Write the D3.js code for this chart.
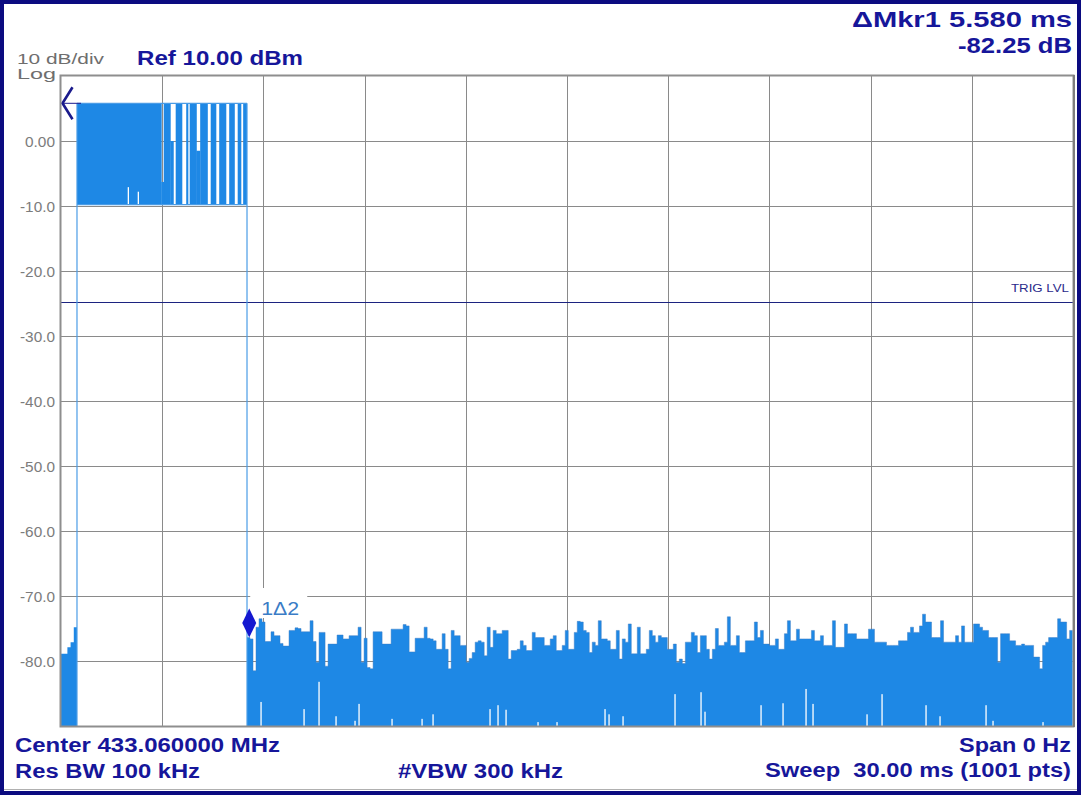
<!DOCTYPE html>
<html>
<head>
<meta charset="utf-8">
<script src="https://cdn.jsdelivr.net/npm/d3@7"></script>
<style>
  html, body { margin: 0; padding: 0; background: #fff; }
  svg { display: block; }
  text { white-space: pre; }
</style>
</head>
<body>
<svg id="chart" width="1081" height="795"></svg>
<script>
// ---------------- data ----------------
const sweepMs = 30;            // Sweep 30.00 ms
const refLevelDb = 10;         // Ref 10.00 dBm
const dbPerDiv = 10;
const divisions = 10;

const xGridMs = [3, 6, 9, 12, 15, 18, 21, 24, 27];
const yTickDb = [0, -10, -20, -30, -40, -50, -60, -70, -80];
const yTickLabels = ["0.00", "-10.0", "-20.0", "-30.0", "-40.0", "-50.0", "-60.0", "-70.0", "-80.0"];

const trigLevelDb = -24.8;

// noise before the burst (column peaks, dBm)
const preNoisePeaks = [-78.9, -78.9, -77.9, -77.1, -74.8];

// burst (OOK) : blocks of trace activity between high and low level
const burstHighDb = 5.8;
const burstLowDb = -9.8;
const burstStartMs = [0.474, 3.045, 3.240, 3.400, 3.712, 3.815, 4.010, 4.126, 4.438, 4.690, 4.986, 5.238, 5.400, 2.975];
const burstEndMs   = [2.985, 3.252, 3.342, 3.596, 3.775, 4.025, 4.130, 4.352, 4.604, 4.900, 5.152, 5.345, 5.514, 3.055];
const burstTopDb   = [5.8, 5.8, 0.0, 5.8, 5.8, 5.8, -1.5, 5.8, 5.8, 5.8, 5.8, 5.8, 5.8, -6.3];
const burstDipMs = [1.995, 2.291];
const burstDipDb = [-7.1, -7.8];

// noise after the burst: peak of each 0.089 ms column, dBm
const noiseStartMs = 5.514;
const noiseStepMs = 0.089;
const noisePeaks = [
  -76.4,-76.6,-81.5,-74.8,-73.5,-74.0,-77.0,-77.0,-75.5,-76.1,
  -76.1,-77.3,-77.7,-77.7,-75.3,-75.3,-74.9,-75.0,-75.5,-75.5,
  -75.5,-73.8,-77.0,-80.2,-75.6,-75.6,-80.8,-77.4,-77.4,-77.4,
  -76.0,-76.0,-76.6,-76.6,-76.1,-76.1,-76.1,-74.8,-80.2,-76.5,
  -81.0,-81.2,-75.5,-75.5,-75.5,-77.4,-77.4,-77.4,-75.1,-75.1,
  -75.1,-75.1,-74.4,-74.6,-78.6,-78.6,-76.5,-76.5,-76.5,-74.8,
  -76.5,
  -76.6,-76.9,-78.2,-78.2,-75.8,-78.2,-81.2,-75.3,-76.1,-76.1,
  -77.6,-77.6,-80.2,-79.6,-78.7,-77.1,-76.9,-77.1,-79.2,-74.8,
  -77.9,-75.3,-75.8,-75.8,-75.3,-75.3,-79.7,-78.4,-78.4,-78.2,
  -76.9,-77.6,-78.4,-78.4,-75.6,-76.4,-76.4,-76.4,-77.6,-77.6,
  -76.6,-76.1,-78.4,-78.4,-77.6,-75.3,-78.2,-78.2,-75.6,-73.9,
  -74.0,-75.3,-75.6,-78.7,-77.1,-77.6,-73.8,-76.6,-76.6,-76.9,
  -78.2,-78.2,-75.3,-79.7,-76.6,-77.1,-74.3,-78.9,-78.9,-74.8,
  -78.9,-78.9,-78.2,-75.3,-76.1,-77.1,-76.1,-76.4,-76.4,-78.2,
  -78.2,-77.4,-80.2,-79.7,-80.4,-77.1,-77.1,-75.6,-76.1,-78.7,
  -76.1,-76.1,-78.2,-79.7,-78.2,-75.0,
  -77.6,-77.6,-77.1,-73.2,-77.6,-77.6,-76.1,-78.7,-78.7,-76.9,
  -76.9,-76.9,-74.0,-76.4,-75.3,-77.4,-77.4,-77.6,-77.6,-76.6,
  -78.2,-78.2,-75.8,-73.8,-76.9,-76.9,-75.1,-76.6,-76.6,-76.6,
  -76.6,-75.3,-76.9,-76.9,-76.1,-77.6,-77.6,-77.6,-73.8,-77.9,
  -77.9,-77.9,-74.3,-75.8,-75.8,-75.8,-76.6,-76.6,-76.6,-76.6,
  -75.1,-75.1,-77.1,-77.1,-77.1,-77.1,-77.6,-77.6,-77.6,-77.6,
  -76.9,-76.9,-76.9,-75.6,-74.8,-75.6,-75.6,-74.6,-72.8,-74.0,
  -74.0,-76.4,-76.4,-76.4,-73.8,-77.1,-77.1,-77.1,-77.1,-76.1,
  -77.1,-74.6,-77.1,-77.1,-77.1,-74.3,-74.3,-74.8,-75.3,-75.3,
  -76.4,-76.4,-76.4,-80.2,-75.8,-75.8,-75.8,-76.9,-76.9,-77.6,
  -77.6,-77.4,-77.6,-77.6,-77.6,-79.4,-79.4,-81.2,-77.6,-77.1,
  -76.4,-76.4,-76.4,-73.5,-74.0,-74.0,-76.6,-75.3
];

// trace points whose minimum stays above the screen bottom (white slivers)
const gapMs = [5.929, 7.204, 7.648, 8.152, 8.715, 8.834, 9.812, 10.702, 11.028, 12.717,
               12.954, 13.192, 14.140, 14.703, 16.126, 16.245, 16.660, 18.201, 18.972, 19.090,
               20.751, 21.403, 22.085, 22.292, 23.893, 24.338, 25.642, 26.057, 27.421, 27.628, 29.110];
const gapDb = [-86.3, -87.4, -83.2, -88.5, -89.2, -86.6, -88.9, -88.9, -88.2, -87.4,
               -86.8, -87.5, -89.4, -89.4, -87.4, -88.2, -88.5, -85.1, -84.8, -87.8,
               -86.8, -86.5, -84.3, -86.6, -88.2, -85.1, -86.8, -88.5, -86.8, -89.2, -89.4];

// delta marker
const markerMs = 5.580;
const markerDb = -76.4;
const markerLabel = "1\u03942";

// annotation texts
const headerLeft1 = "10 dB/div";
const headerLeft2 = "Log";
const refText = "Ref 10.00 dBm";
const mkrLine1 = "\u0394Mkr1 5.580 ms";
const mkrLine2 = "-82.25 dB";
const footCenter = "Center 433.060000 MHz";
const footRbw = "Res BW 100 kHz";
const footVbw = "#VBW 300 kHz";
const footSpan = "Span 0 Hz";
const footSweep = "Sweep\u00a0 30.00 ms (1001 pts)";
const trigText = "TRIG LVL";

// ---------------- drawing ----------------
const NAVY = "#16169a";
const TRACE = "#1e88e5";
const TRACE_LINE = "#4a9ce6";
const GRID = "#8a8a8a";
const FONT = "'Liberation Sans', Arial, Helvetica, sans-serif";

const svg = d3.select("#chart");
const X0 = 61, X1 = 1073, Y0 = 76, Y1 = 726;
const x = d3.scaleLinear().domain([0, sweepMs]).range([X0, X1]);
const y = d3.scaleLinear().domain([refLevelDb, refLevelDb - dbPerDiv * divisions]).range([Y0, Y1]);
const bottomDb = refLevelDb - dbPerDiv * divisions;

svg.append("rect").attr("x", 0).attr("y", 0).attr("width", 1081).attr("height", 795).attr("fill", "#fff");

// grid via axes
const gY = svg.append("g").attr("transform", `translate(${X0},0)`)
  .call(d3.axisLeft(y).tickValues(yTickDb)
    .tickFormat((d, i) => yTickLabels[i])
    .tickSize(-(X1 - X0)).tickPadding(6));
gY.select(".domain").remove();
gY.selectAll("line").attr("stroke", GRID).attr("stroke-width", 1).attr("shape-rendering", "crispEdges");
gY.selectAll("text").attr("fill", "#7c7c7c").attr("font-family", FONT).attr("font-size", 14)
  .attr("dy", "0.36em")
  .attr("textLength", (d, i) => yTickLabels[i].length === 4 ? 30 : 35)
  .attr("lengthAdjust", "spacingAndGlyphs");

const gX = svg.append("g").attr("transform", `translate(0,${Y1})`)
  .call(d3.axisBottom(x).tickValues(xGridMs).tickFormat("").tickSize(-(Y1 - Y0)));
gX.select(".domain").remove();
gX.selectAll("line").attr("stroke", GRID).attr("stroke-width", 1).attr("shape-rendering", "crispEdges");

// trigger level line
const ty = Math.round(y(trigLevelDb)) + 0.5;
svg.append("line").attr("x1", X0).attr("x2", X1).attr("y1", ty).attr("y2", ty)
  .attr("stroke", "#1c2380").attr("stroke-width", 1);
svg.append("text").text(trigText).attr("x", 1069).attr("y", ty - 11)
  .attr("text-anchor", "end").attr("font-family", FONT).attr("font-size", 11)
  .attr("fill", "#2a2a8a").attr("textLength", 58).attr("lengthAdjust", "spacingAndGlyphs");

// white box behind marker label
const mx = x(markerMs), my = y(markerDb);
svg.append("rect").attr("x", mx + 1).attr("y", y(-70) - 8).attr("width", 57).attr("height", 30).attr("fill", "#fff");

// ---- trace ----
const gT = svg.append("g");
const burstStart = d3.min(burstStartMs), burstEnd = d3.max(burstEndMs);

const stepArea = d3.area().curve(d3.curveStepAfter)
  .x(d => x(d[0])).y0(y(bottomDb)).y1(d => y(d[1]));
const stepLine = d3.line().curve(d3.curveStepAfter).x(d => x(d[0])).y(d => y(d[1]));

// pre-burst noise
const preStep = burstStart / preNoisePeaks.length;
const prePts = preNoisePeaks.map((d, i) => [i * preStep, d]);
prePts.push([burstStart, preNoisePeaks[preNoisePeaks.length - 1]]);
gT.append("path").attr("d", stepArea(prePts)).attr("fill", TRACE);

// post-burst noise
const noisePts = noisePeaks.map((d, i) => [noiseStartMs + i * noiseStepMs, d]);
noisePts.push([Math.min(sweepMs, noiseStartMs + noisePeaks.length * noiseStepMs), noisePeaks[noisePeaks.length - 1]]);
gT.append("path").attr("d", stepArea(noisePts)).attr("fill", TRACE);
gT.append("path").attr("d", stepLine(noisePts)).attr("fill", "none")
  .attr("stroke", "#3a7dc4").attr("stroke-width", 0.8).attr("opacity", 0.6);

// white slivers at the bottom
gT.selectAll("rect.gap").data(gapMs).join("rect")
  .attr("x", d => x(d) - 0.6).attr("width", 1.3)
  .attr("y", (d, i) => y(gapDb[i])).attr("height", (d, i) => y(bottomDb) - y(gapDb[i]))
  .attr("fill", "#fff");

// burst blocks
gT.selectAll("rect.burst").data(burstStartMs).join("rect")
  .attr("x", d => x(d))
  .attr("width", (d, i) => x(burstEndMs[i]) - x(d))
  .attr("y", (d, i) => y(burstTopDb[i]))
  .attr("height", (d, i) => y(burstLowDb) - y(burstTopDb[i]))
  .attr("fill", TRACE);
gT.selectAll("rect.dip").data(burstDipMs).join("rect")
  .attr("x", d => x(d) - 0.6).attr("width", 1.3)
  .attr("y", (d, i) => y(burstDipDb[i])).attr("height", (d, i) => y(burstLowDb) - y(burstDipDb[i]))
  .attr("fill", "#fff");

// burst outline: high and low level lines, rising and falling edges
[burstHighDb, burstLowDb].forEach(v => {
  gT.append("line").attr("x1", x(burstStart)).attr("x2", x(burstEnd))
    .attr("y1", y(v)).attr("y2", y(v)).attr("stroke", TRACE_LINE).attr("stroke-width", 1.2);
});
[burstStart, burstEnd].forEach(t => {
  gT.append("line").attr("x1", x(t)).attr("x2", x(t))
    .attr("y1", y(burstHighDb)).attr("y2", y(bottomDb)).attr("stroke", TRACE_LINE).attr("stroke-width", 1.2);
});

// delta marker diamond + label
svg.append("path")
  .attr("d", `M${mx},${my} L${mx + 7},${my - 14.5} L${mx},${my - 29} L${mx - 7},${my - 14.5} Z`)
  .attr("fill", "#1418d0");
svg.append("text").text(markerLabel).attr("x", mx + 12).attr("y", y(-70) + 19)
  .attr("font-family", FONT).attr("font-size", 19).attr("fill", "#3a7cc6")
  .attr("textLength", 38).attr("lengthAdjust", "spacingAndGlyphs");

// reference marker (off to the left)
svg.append("line").attr("x1", x(0) + 1).attr("x2", x(0) + 20)
  .attr("y1", y(burstHighDb)).attr("y2", y(burstHighDb)).attr("stroke", "#1a1a8c").attr("stroke-width", 1);
svg.append("path")
  .attr("d", `M${x(0) + 11.5},${y(burstHighDb) - 16} L${x(0) + 1.5},${y(burstHighDb)} L${x(0) + 11.5},${y(burstHighDb) + 16}`)
  .attr("fill", "none").attr("stroke", "#1a1a8c").attr("stroke-width", 2.6);

// graticule border
svg.append("rect").attr("x", X0 - 0.5).attr("y", Y0 - 0.5).attr("width", X1 - X0 + 1).attr("height", Y1 - Y0 + 1)
  .attr("fill", "none").attr("stroke", "#8e8e8e").attr("stroke-width", 2);
svg.append("line").attr("x1", X1 + 1).attr("x2", X1 + 1).attr("y1", Y0 - 1).attr("y2", Y1 + 1)
  .attr("stroke", "#7e7e7e").attr("stroke-width", 2);

// ---- annotation texts ----
function label(s, xp, yp, opts) {
  const t = svg.append("text").text(s).attr("x", xp).attr("y", yp)
    .attr("font-family", FONT).attr("font-size", opts.size)
    .attr("font-weight", opts.bold ? "bold" : "normal")
    .attr("fill", opts.color).attr("text-anchor", opts.anchor || "start");
  if (opts.len) t.attr("textLength", opts.len).attr("lengthAdjust", "spacingAndGlyphs");
  return t;
}
label(headerLeft1, 17, 64, { size: 15, color: "#6e6e6e", len: 87 });
label(headerLeft2, 17, 79, { size: 15, color: "#6e6e6e", len: 39 });
label(refText, 137, 65, { size: 20, bold: true, color: NAVY, len: 166 });
label(mkrLine1, 1072, 27, { size: 22, bold: true, color: NAVY, anchor: "end", len: 220 });
label(mkrLine2, 1072, 53, { size: 22, bold: true, color: NAVY, anchor: "end", len: 114 });
label(footCenter, 15, 752, { size: 20, bold: true, color: NAVY, len: 265 });
label(footRbw, 15, 778, { size: 20, bold: true, color: NAVY, len: 185 });
label(footVbw, 398, 778, { size: 20, bold: true, color: NAVY, len: 165 });
label(footSpan, 1071, 752, { size: 20, bold: true, color: NAVY, anchor: "end", len: 112 });
label(footSweep, 1071, 777, { size: 20, bold: true, color: NAVY, anchor: "end", len: 306 });

// outer frame
svg.append("line").attr("x1", 4).attr("x2", 1077).attr("y1", 789.5).attr("y2", 789.5)
  .attr("stroke", "#b0b0b0").attr("stroke-width", 1);
svg.append("rect").attr("x", 2).attr("y", 2).attr("width", 1077).attr("height", 791)
  .attr("fill", "none").attr("stroke", "#0b0b80").attr("stroke-width", 4);
</script>
</body>
</html>
